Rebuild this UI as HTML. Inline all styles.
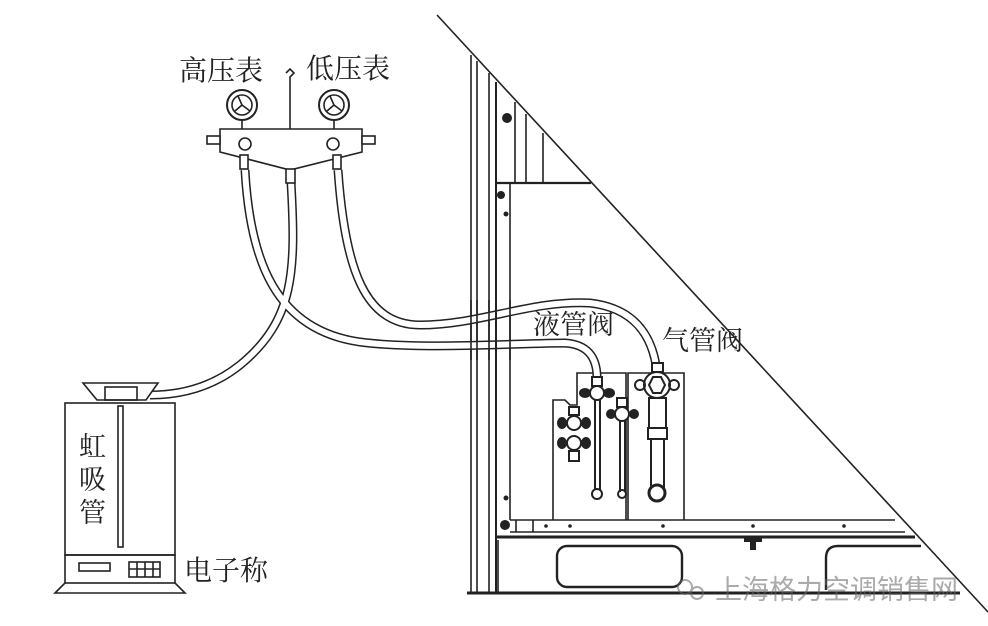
<!DOCTYPE html>
<html><head><meta charset="utf-8"><style>
html,body{margin:0;padding:0;background:#fff;}
svg{display:block}
text{font-family:"Liberation Serif","Noto Serif CJK SC","Noto Sans CJK SC",serif;fill:#222}
</style></head><body>
<svg width="988" height="626" viewBox="0 0 988 626" xmlns="http://www.w3.org/2000/svg">
<g stroke="#222" fill="none" stroke-width="1.6">
<line x1="437" y1="15" x2="988" y2="612"/>
<line x1="471" y1="55" x2="471" y2="593"/>
<line x1="477" y1="61" x2="477" y2="593"/>
<line x1="489" y1="73" x2="489" y2="593"/>
<line x1="496" y1="82" x2="496" y2="593" stroke-width="2"/>
<line x1="510" y1="183" x2="510" y2="520"/>
<line x1="515" y1="102" x2="515" y2="183"/>
<line x1="526" y1="114" x2="526" y2="183"/>
<line x1="543" y1="133" x2="543" y2="183"/>
<line x1="496" y1="183" x2="591" y2="183" stroke-width="2.2"/>
<line x1="510" y1="520" x2="895" y2="520"/>
<line x1="510" y1="532" x2="905" y2="532"/>
<line x1="516" y1="520" x2="516" y2="532"/>
<line x1="533" y1="520" x2="533" y2="532"/>
<line x1="497" y1="537" x2="915" y2="537" stroke-width="3"/>
<line x1="467" y1="593" x2="960" y2="593" stroke-width="3"/>
<line x1="498" y1="540" x2="498" y2="593"/>
<rect x="557" y="546" width="125" height="41" rx="10" stroke-width="2.4"/>
<path d="M826,590 L826,558 Q826,546 838,546 L921,546" stroke-width="2.4"/>
<path d="M553,520 L553,400 L565,400 L570,405 L577,405 L577,373 L626,373 L626,520"/>
<path d="M628,520 L628,373 L684,373 L684,520"/>
<g stroke-width="9" stroke-linecap="butt">
<path d="M245,170 C250,260 275,330 360,342 C420,350 520,343 565,343 Q597,345 597,378"/>
<path d="M291,182 C296,270 295,320 240,365 C215,385 185,395 150,395"/>
<path d="M338,170 C345,270 365,325 420,325 C480,325 530,300 590,303 Q650,310 657,372"/>
</g>
<g stroke="#fff" stroke-width="6">
<path d="M245,170 C250,260 275,330 360,342 C420,350 520,343 565,343 Q597,345 597,378"/>
<path d="M291,182 C296,270 295,320 240,365 C215,385 185,395 150,395"/>
<path d="M338,170 C345,270 365,325 420,325 C480,325 530,300 590,303 Q650,310 657,372"/>
</g>
<line x1="471" y1="300" x2="471" y2="360"/>
<line x1="477" y1="300" x2="477" y2="360"/>
<line x1="489" y1="300" x2="489" y2="360"/>
<line x1="496" y1="300" x2="496" y2="360" stroke-width="2"/>
<line x1="510" y1="300" x2="510" y2="360"/>
<path d="M220,129 L362,129 L362,152 L290,170 L220,152 Z" fill="#fff"/>
<rect x="207" y="136" width="13" height="8" fill="#fff"/>
<rect x="362" y="136" width="13" height="8" fill="#fff"/>
<circle cx="245" cy="144" r="6" fill="#fff"/>
<circle cx="333" cy="144" r="6" fill="#fff"/>
<rect x="240" y="155" width="8" height="14" fill="#fff"/>
<rect x="286" y="169" width="9" height="14" fill="#fff"/>
<rect x="333" y="155" width="8" height="14" fill="#fff"/>
<line x1="242" y1="119" x2="242" y2="129"/><line x1="334" y1="119" x2="334" y2="129"/>
<circle cx="242" cy="105" r="15" stroke-width="2"/><circle cx="242" cy="105" r="10"/>
<circle cx="334" cy="105" r="15" stroke-width="2"/><circle cx="334" cy="105" r="10"/>
<path d="M242,105 L238,96 M242,105 L235,111 M242,105 L250,111"/>
<path d="M334,105 L330,96 M334,105 L327,111 M334,105 L342,111"/>
<path d="M290,129 L290,77 L294,73 L290,69 L286,73"/>
<g stroke-width="2">
<line x1="595" y1="395" x2="595" y2="490"/><line x1="600" y1="395" x2="600" y2="490"/>
<circle cx="597" cy="494" r="5"/>
<rect x="592" y="377" width="10" height="9" fill="#fff"/>
<circle cx="597" cy="393" r="7" fill="#fff"/>
<ellipse cx="585" cy="393" rx="5" ry="4" fill="#222"/><ellipse cx="609" cy="393" rx="5" ry="4" fill="#222"/>
<line x1="620" y1="420" x2="620" y2="492"/><line x1="625" y1="420" x2="625" y2="492"/>
<circle cx="622" cy="494" r="4"/>
<rect x="617" y="398" width="10" height="9" fill="#fff"/>
<circle cx="622" cy="414" r="7" fill="#fff"/>
<ellipse cx="611" cy="414" rx="4" ry="4" fill="#222"/><ellipse cx="634" cy="414" rx="4" ry="4" fill="#222"/>
<rect x="569" y="407" width="10" height="8" fill="#fff"/>
<circle cx="574" cy="423" r="7" fill="#fff"/><circle cx="574" cy="443" r="7" fill="#fff"/>
<ellipse cx="562" cy="423" rx="4" ry="5" fill="#222"/><ellipse cx="586" cy="423" rx="4" ry="5" fill="#222"/>
<ellipse cx="562" cy="443" rx="4" ry="5" fill="#222"/><ellipse cx="586" cy="443" rx="4" ry="5" fill="#222"/>
<rect x="569" y="451" width="10" height="10" fill="#fff"/>
<rect x="652" y="363" width="11" height="9" fill="#fff"/>
<circle cx="657" cy="385" r="13" fill="#fff"/>
<polygon points="649,385 653,377 661,377 665,385 661,393 653,393" fill="#fff"/>
<circle cx="640" cy="385" r="5"/><circle cx="674" cy="385" r="5"/>
<rect x="649" y="398" width="17" height="30" fill="#fff"/>
<rect x="648" y="428" width="19" height="11" fill="#fff"/>
<line x1="651" y1="439" x2="651" y2="490"/><line x1="664" y1="439" x2="664" y2="490"/>
<circle cx="657" cy="493" r="8" stroke-width="3" fill="#fff"/>
</g>
<path d="M83,383 L158,383 L146,400 L97,400 Z" fill="#fff"/>
<rect x="105" y="387" width="32" height="13"/>
<rect x="65" y="403" width="110" height="152" fill="#fff"/>
<rect x="118" y="406" width="5" height="141"/>
<rect x="65" y="555" width="110" height="28"/>
<path d="M65,583 L55,593 L185,593 L175,583"/>
<rect x="79" y="563" width="31" height="8"/>
<rect x="129" y="562" width="31" height="15"/>
<path d="M137,562 V577 M145,562 V577 M153,562 V577 M129,569 H160"/>
</g>
<g fill="#222">
<circle cx="507" cy="118" r="5"/><circle cx="501" cy="195" r="4"/><circle cx="506" cy="214" r="2.5"/>
<circle cx="505" cy="525" r="5"/><circle cx="506" cy="498" r="2.5"/>
<circle cx="546" cy="526" r="1.8"/><circle cx="570" cy="526" r="1.8"/><circle cx="663" cy="526" r="1.8"/><circle cx="753" cy="526" r="1.8"/><circle cx="844" cy="526" r="1.8"/>
<rect x="744" y="537" width="18" height="5"/><rect x="750" y="542" width="6" height="8"/>
</g>
<text x="179" y="80" font-size="28">高压表</text>
<text x="306" y="78" font-size="28">低压表</text>
<text x="533" y="334" font-size="27">液管阀</text>
<text x="662" y="350" font-size="27">气管阀</text>
<text x="79" y="456" font-size="27">虹</text>
<text x="79" y="489" font-size="27">吸</text>
<text x="79" y="522" font-size="27">管</text>
<text x="184" y="580" font-size="28">电子称</text>
<g opacity="0.55">
<circle cx="685" cy="587" r="7" fill="none" stroke="#666" stroke-width="2"/>
<circle cx="697" cy="593" r="6" fill="none" stroke="#666" stroke-width="2"/>
<text x="715" y="599" font-size="27" style="fill:#666;font-family:'Liberation Sans','Noto Sans CJK SC',sans-serif">上海格力空调销售网</text>
</g>
</svg>
</body></html>
